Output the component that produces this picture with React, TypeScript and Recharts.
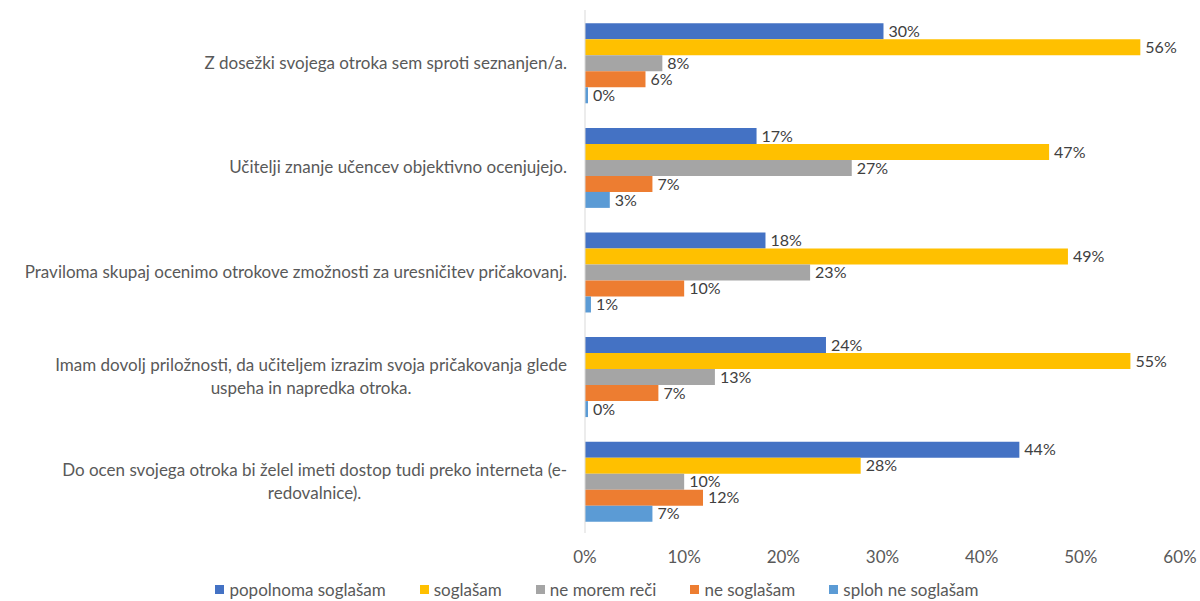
import React from 'react';
import { BarChart, Bar, XAxis, YAxis, Legend, LabelList } from 'recharts';

const categories = [
  'Z dosežki svojega otroka sem sproti seznanjen/a.',
  'Učitelji znanje učencev objektivno ocenjujejo.',
  'Praviloma skupaj ocenimo otrokove zmožnosti za uresničitev pričakovanj.',
  'Imam dovolj priložnosti, da učiteljem izrazim svoja pričakovanja glede\nuspeha in napredka otroka.',
  'Do ocen svojega otroka bi želel imeti dostop tudi preko interneta (e-\nredovalnice).',
];
const popolnoma = [30.1, 17.3, 18.2, 24.3, 43.8];
const soglasam = [56.0, 46.8, 48.7, 55.0, 27.8];
const neMorem = [7.8, 26.9, 22.7, 13.1, 10.0];
const neSoglasam = [6.1, 6.8, 10.0, 7.4, 11.9];
const splohNe = [0.3, 2.5, 0.6, 0.3, 6.8];
const xTicks = [0, 10, 20, 30, 40, 50, 60];

const seriesNames = ['popolnoma soglašam', 'soglašam', 'ne morem reči', 'ne soglašam', 'sploh ne soglašam'];
const seriesKeys = ['a', 'b', 'c', 'd', 'e'];
const colors = ['#4472C4', '#FFC000', '#A5A5A5', '#ED7D31', '#5B9BD5'];

const data = categories.map((name, i) => ({
  name,
  a: popolnoma[i],
  b: soglasam[i],
  c: neMorem[i],
  d: neSoglasam[i],
  e: splohNe[i],
}));

const FONT = 'Lato, "Open Sans", sans-serif';
const FS = 17;
const LABEL_FS = 16;

let ctx: CanvasRenderingContext2D | null = null;
function measure(t: string) {
  if (!ctx) {
    const c = document.createElement('canvas');
    ctx = c.getContext('2d');
  }
  if (!ctx) return t.length * 7.7;
  ctx.font = `${FS}px Lato`;
  return ctx.measureText(t).width;
}

const CatTick = (props: any) => {
  const { x, y, payload } = props;
  const lines: string[] = String(payload.value).split('\n');
  const maxW = Math.max(...lines.map(measure));
  const lh = 23;
  const cx = x - maxW / 2;
  const startY = y - ((lines.length - 1) * lh) / 2;
  return (
    <g>
      {lines.map((l, i) => (
        <text
          key={i}
          x={lines.length > 1 ? cx : x}
          y={startY + i * lh}
          textAnchor={lines.length > 1 ? 'middle' : 'end'}
          dominantBaseline="central"
          fill="#595959"
          fontSize={FS}
          fontFamily={FONT}
        >
          {l}
        </text>
      ))}
    </g>
  );
};

const LegendContent = () => (
  <div
    style={{
      display: 'flex',
      justifyContent: 'center',
      fontFamily: FONT,
      fontSize: FS,
      color: '#595959',
      paddingTop: 6,
      paddingLeft: 14,
    }}
  >
    {seriesNames.map((n, i) => (
      <div key={n} style={{ display: 'flex', alignItems: 'center', marginRight: i < seriesNames.length - 1 ? 34 : 0 }}>
        <span style={{ display: 'inline-block', width: 9, height: 9, background: colors[i], marginRight: 5 }} />
        <span>{n}</span>
      </div>
    ))}
  </div>
);

export default function App() {
  return (
    <div style={{ position: 'absolute', left: 0, top: 0, width: 1200, height: 601, background: '#fff' }}>
      <BarChart
        width={1200}
        height={601}
        data={data}
        layout="vertical"
        margin={{ top: 10, right: 20, left: 0, bottom: 0 }}
        barCategoryGap="12.7%"
        barGap={0}
      >
        <XAxis
          type="number"
          domain={[0, 60]}
          ticks={xTicks}
          tickFormatter={(v: number) => `${v}%`}
          axisLine={false}
          tickLine={false}
          tick={{ fill: '#595959', fontSize: FS, fontFamily: FONT }}
          tickMargin={12}
          height={40}
        />
        <YAxis
          type="category"
          dataKey="name"
          width={585}
          axisLine={{ stroke: '#D9D9D9' }}
          tickLine={false}
          tick={<CatTick />}
          tickMargin={12}
          interval={0}
        />
        <Legend verticalAlign="bottom" height={28} content={<LegendContent />} />
        {seriesKeys.map((k, i) => (
          <Bar key={k} dataKey={k} name={seriesNames[i]} fill={colors[i]} isAnimationActive={false}>
            <LabelList
              dataKey={k}
              position="right"
              offset={5}
              formatter={(v: number) => `${Math.round(v)}%`}
              style={{ fill: '#404040', fontSize: LABEL_FS, fontFamily: FONT }}
            />
          </Bar>
        ))}
      </BarChart>
    </div>
  );
}
